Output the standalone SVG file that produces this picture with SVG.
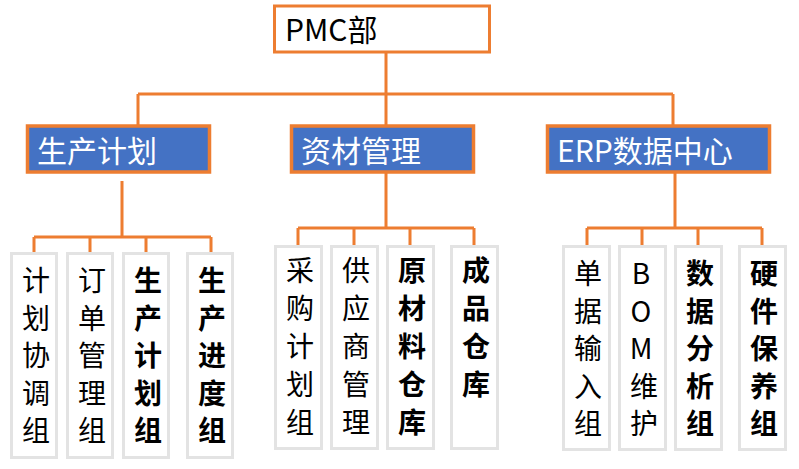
<svg xmlns="http://www.w3.org/2000/svg" width="799" height="469" viewBox="0 0 799 469">
<style>
.ln{stroke:#ED7D31;stroke-width:3;fill:none}
.top{fill:#fff;stroke:#ED7D31;stroke-width:3}
.mid{fill:#4472C4;stroke:#ED7D31;stroke-width:3.5}
.leaf{fill:#fff;stroke:#E3E3E3;stroke-width:3}
.t{font-family:"Noto Sans CJK SC","Noto Sans",sans-serif}
.wt{fill:#fff;font-size:30px}
.lt{fill:#000;font-size:28px;text-anchor:middle}
.b{font-weight:bold}
</style>
<rect width="799" height="469" fill="#fff"/>
<g id="connectors">
<path class="ln" d="M386 53V94M138 94H673M138 94V125M386 94V125M673 94V125"/>
<path class="ln" d="M122 181V237M34 237H211M34 237V253M90 237V253M146 237V253M211 237V253"/>
<path class="ln" d="M386 173V228M298 228H474M298 228V245M354 228V245M410 228V245M474 228V245"/>
<path class="ln" d="M675 173V228M587 228H762M587 228V245M642 228V245M698 228V245M762 228V245"/>
</g>
<g id="pmc"><rect class="top" x="274.5" y="6" width="215" height="46"/><text class="t" x="285" y="41" font-size="30" fill="#000">PMC部</text></g>
<g id="plan"><rect class="mid" x="27.5" y="126" width="182" height="46"/><text class="t wt" x="37" y="162">生产计划</text></g>
<g id="material"><rect class="mid" x="291.5" y="126" width="182" height="46"/><text class="t wt" x="301" y="162">资材管理</text></g>
<g id="erp"><rect class="mid" x="547.5" y="126" width="222" height="46"/><text class="t wt" x="557" y="162">ERP数据中心</text></g>

<g id="l1"><rect class="leaf" x="11.5" y="253.5" width="45" height="204"/><text class="t lt" y="291"><tspan x="36">计</tspan><tspan x="36" dy="37.5">划</tspan><tspan x="36" dy="37.5">协</tspan><tspan x="36" dy="37.5">调</tspan><tspan x="36" dy="37.5">组</tspan></text></g>
<g id="l2"><rect class="leaf" x="67.5" y="253.5" width="45" height="204"/><text class="t lt" y="291"><tspan x="92">订</tspan><tspan x="92" dy="37.5">单</tspan><tspan x="92" dy="37.5">管</tspan><tspan x="92" dy="37.5">理</tspan><tspan x="92" dy="37.5">组</tspan></text></g>
<g id="l3"><rect class="leaf" x="123.5" y="253.5" width="45" height="204"/><text class="t lt b" y="291"><tspan x="148">生</tspan><tspan x="148" dy="37.5">产</tspan><tspan x="148" dy="37.5">计</tspan><tspan x="148" dy="37.5">划</tspan><tspan x="148" dy="37.5">组</tspan></text></g>
<g id="l4"><rect class="leaf" x="187.5" y="253.5" width="45" height="204"/><text class="t lt b" y="291"><tspan x="212">生</tspan><tspan x="212" dy="37.5">产</tspan><tspan x="212" dy="37.5">进</tspan><tspan x="212" dy="37.5">度</tspan><tspan x="212" dy="37.5">组</tspan></text></g>

<g id="m1"><rect class="leaf" x="275.5" y="246.5" width="46" height="202"/><text class="t lt" y="281"><tspan x="300">采</tspan><tspan x="300" dy="38">购</tspan><tspan x="300" dy="38">计</tspan><tspan x="300" dy="38">划</tspan><tspan x="300" dy="38">组</tspan></text></g>
<g id="m2"><rect class="leaf" x="331.5" y="246.5" width="46" height="202"/><text class="t lt" y="281"><tspan x="356">供</tspan><tspan x="356" dy="38">应</tspan><tspan x="356" dy="38">商</tspan><tspan x="356" dy="38">管</tspan><tspan x="356" dy="38">理</tspan></text></g>
<g id="m3"><rect class="leaf" x="387.5" y="246.5" width="46" height="202"/><text class="t lt b" y="281"><tspan x="412">原</tspan><tspan x="412" dy="38">材</tspan><tspan x="412" dy="38">料</tspan><tspan x="412" dy="38">仓</tspan><tspan x="412" dy="38">库</tspan></text></g>
<g id="m4"><rect class="leaf" x="451.5" y="246.5" width="46" height="202"/><text class="t lt b" y="281"><tspan x="476">成</tspan><tspan x="476" dy="38">品</tspan><tspan x="476" dy="38">仓</tspan><tspan x="476" dy="38">库</tspan></text></g>

<g id="r1"><rect class="leaf" x="563.5" y="246.5" width="46" height="203"/><text class="t lt" y="284"><tspan x="588">单</tspan><tspan x="588" dy="37.5">据</tspan><tspan x="588" dy="37.5">输</tspan><tspan x="588" dy="37.5">入</tspan><tspan x="588" dy="37.5">组</tspan></text></g>
<g id="r2"><rect class="leaf" x="619.5" y="246.5" width="46" height="203"/><text class="t lt" y="284"><tspan x="641">B</tspan><tspan x="641" dy="37.5">O</tspan><tspan x="641" dy="37.5">M</tspan><tspan x="644" dy="37.5">维</tspan><tspan x="644" dy="37.5">护</tspan></text></g>
<g id="r3"><rect class="leaf" x="675.5" y="246.5" width="46" height="203"/><text class="t lt b" y="284"><tspan x="700">数</tspan><tspan x="700" dy="37.5">据</tspan><tspan x="700" dy="37.5">分</tspan><tspan x="700" dy="37.5">析</tspan><tspan x="700" dy="37.5">组</tspan></text></g>
<g id="r4"><rect class="leaf" x="739.5" y="246.5" width="46" height="203"/><text class="t lt b" y="284"><tspan x="764">硬</tspan><tspan x="764" dy="37.5">件</tspan><tspan x="764" dy="37.5">保</tspan><tspan x="764" dy="37.5">养</tspan><tspan x="764" dy="37.5">组</tspan></text></g>
</svg>
